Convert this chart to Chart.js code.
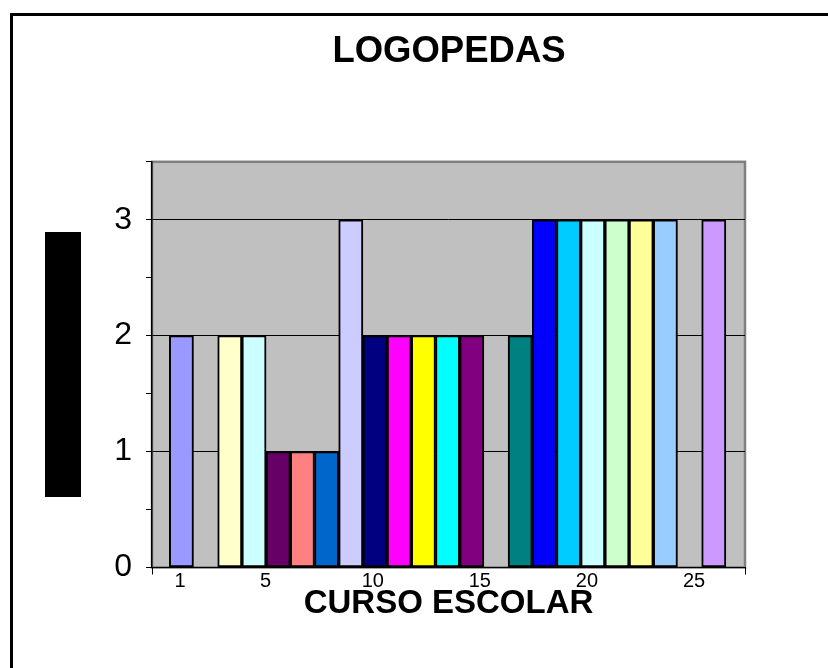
<!DOCTYPE html>
<html>
<head>
<meta charset="utf-8">
<title>LOGOPEDAS</title>
<script src="https://cdn.jsdelivr.net/npm/chart.js@4/dist/chart.umd.min.js"></script>
<style>
    html, body { margin: 0; padding: 0; background: #fff; overflow: hidden; }
    #wrap { position: relative; width: 828px; height: 668px; }
    #frame { position: absolute; left: 10px; top: 13px; width: 900px; height: 800px; border: 3px solid #000; pointer-events: none; }
    #yBlock { position: absolute; left: 45px; top: 232px; width: 36px; height: 265px; background: #000; }
</style>
</head>
<body>
<div id="wrap">
    <canvas id="logoChart" width="828" height="668"></canvas>
    <div id="frame"></div>
    <div id="yBlock"></div>
</div>
<script>
'use strict';

/* ── data ── */
const slotPositions = [1, 2, 3, 4, 5, 6, 7, 8, 9, 10, 11, 12, 13, 14, 15, 16, 17, 18, 19, 20, 21, 22, 23];
const slotCounts    = [2, null, 2, 2, 1, 1, 1, 3, 2, 2, 2, 2, 2, null, 2, 3, 3, 3, 3, 3, 3, null, 3];
const slotColors    = ['#9999FF', null, '#FFFFCC', '#CCFFFF', '#660066', '#FF8080', '#0066CC', '#CCCCFF',
                       '#000080', '#FF00FF', '#FFFF00', '#00FFFF', '#800080', null, '#008080', '#0000FF',
                       '#00CCFF', '#CCFFFF', '#CCFFCC', '#FFFF99', '#99CCFF', null, '#CC99FF'];
const xTickLabels   = [1, 5, 10, 15, 20, 25];
const yTickLabels   = [0, 1, 2, 3];

const FONT = "'Liberation Sans', Arial, sans-serif";
const X_MIN = -0.307, X_MAX = 27.38;

/* gray plot area with a gray frame, like the old spreadsheet look */
const plotBackground = {
    id: 'plotBackground',
    beforeDraw(chart) {
        const { ctx, chartArea: a } = chart;
        ctx.save();
        ctx.fillStyle = '#C0C0C0';
        ctx.fillRect(a.left, a.top, a.right - a.left, a.bottom - a.top);
        ctx.strokeStyle = '#808080';
        ctx.lineWidth = 2.5;
        ctx.strokeRect(a.left, a.top, a.right - a.left, a.bottom - a.top);
        ctx.restore();
    },
};

const ctx = document.getElementById('logoChart').getContext('2d');
new Chart(ctx, {
    type: 'bar',
    data: {
        datasets: [{
            label: 'LOGOPEDAS',
            data: slotPositions.map((x, i) => ({ x, y: slotCounts[i] })),
            backgroundColor: slotColors,
            borderColor: '#000',
            borderWidth: 2,
            borderSkipped: false,
            barPercentage: 1,
            categoryPercentage: 1,
            xAxisID: 'x',
            yAxisID: 'y',
        }],
    },
    options: {
        responsive: false,
        animation: false,
        // left padding offsets the title so it sits over the plot centre
        layout: { padding: { left: 70, top: 0, right: 0, bottom: 0 } },
        plugins: {
            legend: { display: false },
            tooltip: { enabled: false },
            title: {
                display: true,
                text: 'LOGOPEDAS',
                color: '#000',
                font: { family: FONT, size: 36.5, weight: 'bold', lineHeight: 1.2 },
                padding: { top: 30, bottom: 88 },
            },
        },
        scales: {
            x: {
                type: 'linear',
                display: false,
                offset: false,
                grid: { offset: false },
                min: -0.215,
                max: 24.29,
            },
            xl: {
                type: 'linear',
                position: 'bottom',
                offset: false,
                min: X_MIN,
                max: X_MAX,
                afterBuildTicks: s => { s.ticks = [X_MIN, ...xTickLabels, X_MAX].map(v => ({ value: v })); },
                afterFit: s => { s.height = 100.5; },
                border: { display: true, color: '#000', width: 1 },
                grid: {
                    offset: false,
                    drawOnChartArea: false,
                    tickLength: 7,
                    tickColor: c => (c.tick && (c.tick.value === X_MIN || c.tick.value === X_MAX)) ? '#000' : 'rgba(0,0,0,0)',
                },
                ticks: {
                    autoSkip: false,
                    maxRotation: 0,
                    padding: -3,
                    color: '#000',
                    font: { family: FONT, size: 20, lineHeight: 1 },
                    callback: v => xTickLabels.includes(v) ? String(v) : '',
                },
                title: {
                    display: true,
                    text: 'CURSO ESCOLAR',
                    color: '#000',
                    font: { family: FONT, size: 33, weight: 'bold', lineHeight: 1.2 },
                    padding: { top: 0, bottom: 44 },
                },
            },
            y: {
                type: 'linear',
                min: 0,
                max: 3.5,
                afterFit: s => { s.width = 82; },
                border: { display: true, color: '#000', width: 1.5 },
                grid: {
                    tickLength: 6,
                    tickColor: '#000',
                    color: c => (c.tick && yTickLabels.includes(c.tick.value) && c.tick.value > 0) ? '#000' : 'rgba(0,0,0,0)',
                    lineWidth: 1,
                },
                ticks: {
                    stepSize: 0.5,
                    padding: 14,
                    color: '#000',
                    font: { family: FONT, size: 32 },
                    callback: v => yTickLabels.includes(v) ? String(v) : '',
                },
            },
            // empty right-hand box that keeps the plot's right edge in place
            yr: {
                type: 'linear',
                position: 'right',
                afterFit: s => { s.width = 83; },
                border: { display: false },
                grid: { display: false },
                ticks: { display: false },
            },
        },
    },
    plugins: [plotBackground],
});
</script>
</body>
</html>
